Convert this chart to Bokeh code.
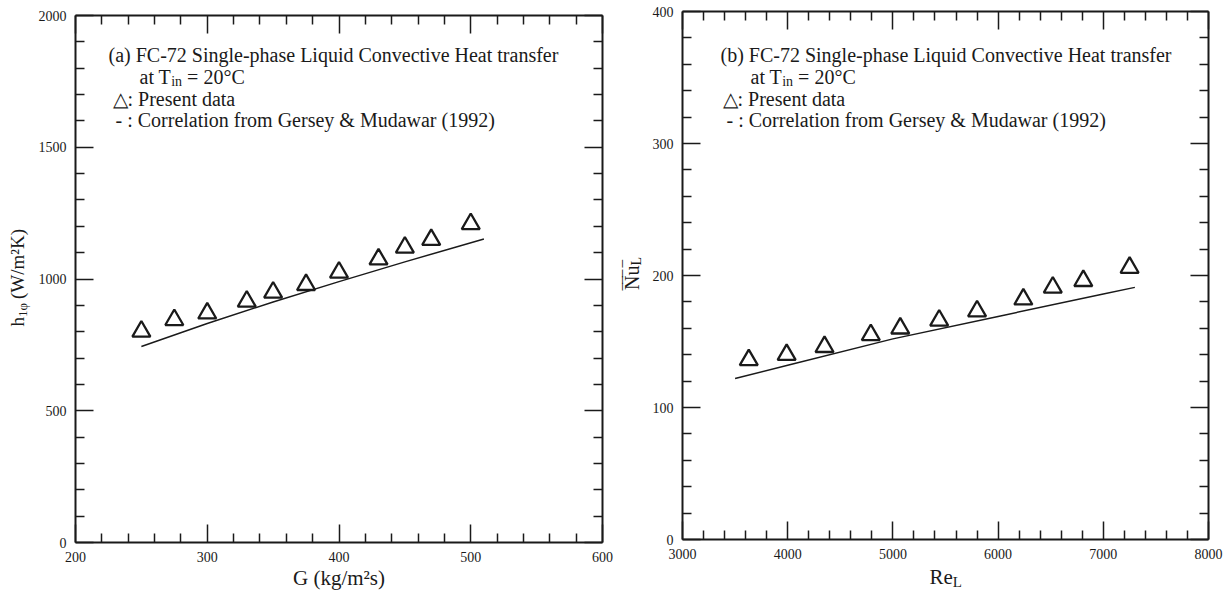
import math
from bokeh.plotting import figure
from bokeh.models import Range1d, FixedTicker, LinearAxis, Label, CustomJSTickFormatter
from bokeh.layouts import row
from bokeh.embed import file_html
from bokeh.resources import INLINE

# ---------------- data ----------------
# Panel (a): heat transfer coefficient vs mass flux
G_data = [250, 275, 300, 330, 350, 375, 400, 430, 450, 470, 500]
h_data = [801, 845, 870, 915, 949, 978, 1025, 1075, 1120, 1149, 1209]
G_corr = [250, 300, 350, 400, 450, 510]
h_corr = [744, 831, 913, 990, 1065, 1152]

# Panel (b): average Nusselt number vs Reynolds number
Re_data = [3630, 3990, 4350, 4790, 5070, 5440, 5800, 6240, 6520, 6810, 7250]
Nu_data = [136, 140, 146, 155, 160, 166, 173, 182, 191, 196, 206]
Re_corr = [3500, 4000, 5000, 6000, 7000, 7300]
Nu_corr = [122, 132, 152, 169, 186, 191]

# tick values
XA_TICKS = [200, 300, 400, 500, 600]
YA_TICKS = [0, 500, 1000, 1500, 2000]
XB_TICKS = [3000, 4000, 5000, 6000, 7000, 8000]
YB_TICKS = [0, 100, 200, 300, 400]

INK = "#1a1a1a"
SERIF = "Liberation Serif"
H = 594


def minor_between(ticks, n=5):
    out = []
    for a, b in zip(ticks[:-1], ticks[1:]):
        step = (b - a) / n
        out += [a + k * step for k in range(1, n)]
    return out


def style_axis(ax, ticks, show_labels):
    ax.ticker = FixedTicker(ticks=ticks, minor_ticks=minor_between(ticks))
    ax.axis_line_color = INK
    ax.axis_line_width = 2
    ax.major_tick_line_color = INK
    ax.major_tick_line_width = 1.5
    ax.minor_tick_line_color = INK
    ax.minor_tick_line_width = 1.5
    ax.major_tick_in = 18
    ax.major_tick_out = 0
    ax.minor_tick_in = 9
    ax.minor_tick_out = 0
    ax.major_label_text_font = SERIF
    ax.major_label_text_color = INK
    if show_labels:
        ax.major_label_text_font_size = "14px"
        ax.major_label_standoff = 9
    else:
        ax.formatter = CustomJSTickFormatter(code="return ''")
        ax.major_label_text_font_size = "1px"
        ax.major_label_standoff = 0


def make_fig(width, xlim, ylim, xt, yt, box):
    """box = (left, right, top, bottom) pixel position of the axes box inside this canvas."""
    l, r, t, b = box
    kx = (r - l) / (xlim[1] - xlim[0])
    ky = (b - t) / (ylim[1] - ylim[0])
    xr = Range1d(xlim[0] - l / kx, xlim[1] + (width - r) / kx)
    yr = Range1d(ylim[0] - (H - b) / ky, ylim[1] + t / ky)
    p = figure(frame_width=width, frame_height=H, x_range=xr, y_range=yr,
               x_axis_location=None, y_axis_location=None,
               output_backend="svg", toolbar_location=None,
               min_border=0, min_border_left=0, min_border_right=0,
               min_border_top=0, min_border_bottom=0)
    p.grid.visible = False
    p.outline_line_color = None
    p.background_fill_color = "white"
    p.border_fill_color = "white"
    specs = [("below", xt, ylim[0], xlim, True),
             ("left", yt, xlim[0], ylim, True),
             ("above", xt, ylim[1], xlim, False),
             ("right", yt, xlim[1], ylim, False)]
    for side, ticks, loc, bnds, lab in specs:
        ax = LinearAxis(fixed_location=loc, bounds=bnds)
        style_axis(ax, ticks, lab)
        p.add_layout(ax, side)
    return p


def put(p, anchor, anchor_px, px, text, size, angle=0.0, align="left", baseline="alphabetic"):
    (ax_, ay_), (asx, asy), (sx, sy) = anchor, anchor_px, px
    p.add_layout(Label(x=ax_, y=ay_, x_offset=sx - asx, y_offset=asy - sy, text=text,
                       text_font=SERIF, text_font_size=f"{size}px", text_color=INK,
                       text_align=align, text_baseline=baseline, angle=angle))


def legend_block(p, anchor, anchor_px, tag, x1, x2, x3, x4):
    fs = 20
    put(p, anchor, anchor_px, (x1, 54), f"({tag}) FC-72 Single-phase Liquid Convective Heat transfer", fs)
    put(p, anchor, anchor_px, (x2, 76), "at T", fs)
    put(p, anchor, anchor_px, (x2 + 31.7, 81), "in", 14)
    put(p, anchor, anchor_px, (x2 + 47.6, 76), "= 20°C", fs)
    put(p, anchor, anchor_px, (x3, 98), "△: Present data", fs)
    put(p, anchor, anchor_px, (x4, 119), "- : Correlation from Gersey & Mudawar (1992)", fs)


# ---------------- panel (a) ----------------
pa = make_fig(620, (200, 600), (0, 2000), XA_TICKS, YA_TICKS, (75, 602, 15, 542))
pa.line(G_corr, h_corr, line_color=INK, line_width=1.5)
pa.scatter(G_data, h_data, marker="triangle", size=18, fill_color=None,
           line_color=INK, line_width=2.3)
A_anchor, A_px = (200, 0), (75, 542)
legend_block(pa, A_anchor, A_px, "a", 108, 139, 112, 115)
put(pa, A_anchor, A_px, (338.5, 577), "G (kg/m²s)", 21, align="center")
put(pa, A_anchor, A_px, (17, 326), "h", 19, angle=math.pi / 2)
put(pa, A_anchor, A_px, (22, 316.5), "1φ", 13, angle=math.pi / 2)
put(pa, A_anchor, A_px, (17, 298.5), "(W/m²K)", 19, angle=math.pi / 2)

# ---------------- panel (b) ----------------
OFF = 620  # page x where the second canvas starts
pb = make_fig(609, (3000, 8000), (0, 400), XB_TICKS, YB_TICKS, (682 - OFF, 1208 - OFF, 11, 539))
pb.line(Re_corr, Nu_corr, line_color=INK, line_width=1.5)
pb.scatter(Re_data, Nu_data, marker="triangle", size=18, fill_color=None,
           line_color=INK, line_width=2.3)
B_anchor, B_px = (3000, 0), (682, 539)
legend_block(pb, B_anchor, B_px, "b", 720, 750, 722, 726)
put(pb, B_anchor, B_px, (929, 576), "Re", 21)
put(pb, B_anchor, B_px, (952.3, 581), "L", 15)
put(pb, B_anchor, B_px, (631, 289.5), "Nu", 20, angle=math.pi / 2)
put(pb, B_anchor, B_px, (636, 265.1), "L", 14, angle=math.pi / 2)
put(pb, B_anchor, B_px, (631, 289.5), "‾‾‾", 20, angle=math.pi / 2)
put(pb, B_anchor, B_px, (631, 266.5), "‾", 20, angle=math.pi / 2)

layout = row(pa, pb)
open("out.html", "w").write(file_html(layout, INLINE))
